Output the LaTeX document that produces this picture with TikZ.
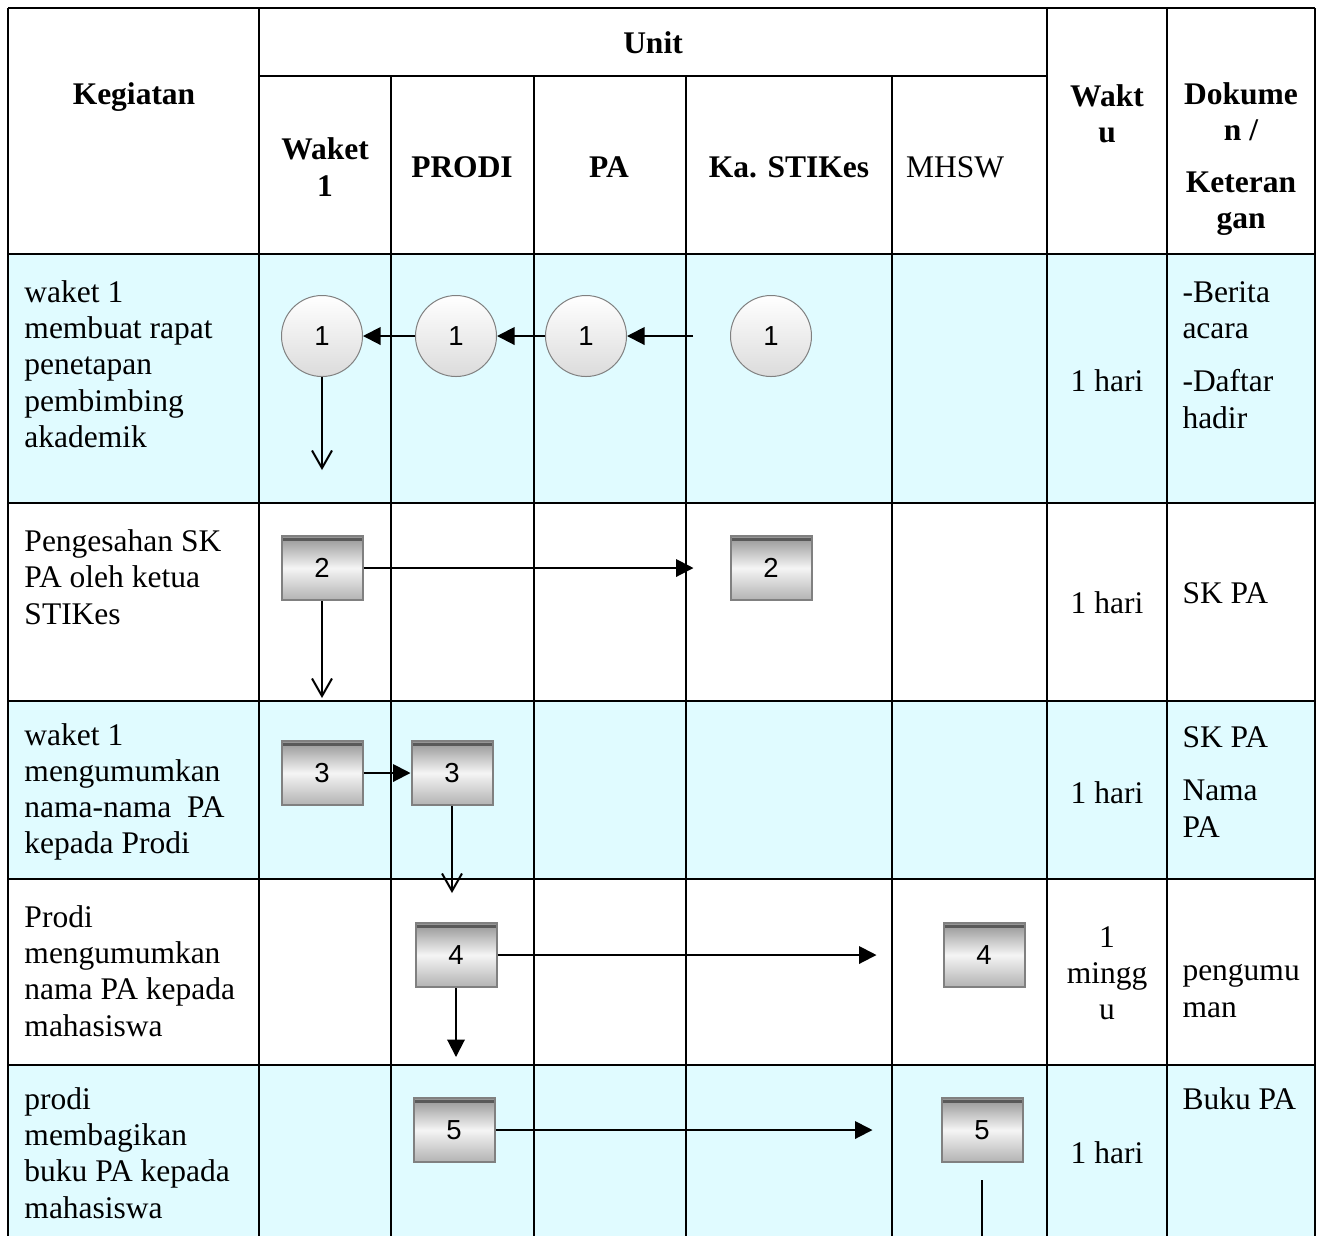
\documentclass[tikz,border=0pt]{standalone}
\usepackage{fontspec}
\setmainfont{Liberation Serif}
\newfontfamily\numfont{Liberation Sans}
\usepackage{tikz}
\usetikzlibrary{arrows.meta,shapes}
\definecolor{rowcyan}{RGB}{224,251,255}

\begin{document}
\begin{tikzpicture}[x=0.4pt,y=-0.4pt,
  txt/.style={inner sep=0pt,font=\fontsize{12.6}{14.5}\selectfont},
  head/.style={inner sep=0pt,align=center,font=\fontsize{12.6}{14.5}\selectfont\bfseries},
  ball/.style={circle,draw=gray,minimum size=32.4pt,inner sep=0pt,top color=white,bottom color=gray!28,font=\numfont\fontsize{11}{13}\selectfont},
  box/.style={rectangle,draw=gray,line width=0.8pt,minimum width=32.4pt,minimum height=25.6pt,inner sep=0pt,
    top color=gray!85,bottom color=gray!60,middle color=gray!8,font=\numfont\fontsize{11}{13}\selectfont,
    path picture={\fill[gray!70!black] ([yshift=-0.8pt]path picture bounding box.north west) rectangle ([yshift=-1.8pt]path picture bounding box.north east);}},
  fwd/.style={-{Triangle[length=7pt,width=7pt]},line width=0.8pt},
  dn/.style={-{Straight Barb[length=7pt,width=8pt]},line width=0.8pt}
]
\useasboundingbox (0,0) rectangle (1321,1236);

% Rows
\fill[rowcyan] (8,254) rectangle (1315,503);
\fill[rowcyan] (8,701) rectangle (1315,879);
\fill[rowcyan] (8,1065) rectangle (1315,1236);

% Grid
\begin{scope}[line width=0.6pt]
\draw (8,8) -- (1315,8);
\draw (259,76) -- (1047,76);
\foreach \y in {254,503,701,879,1065}
{
    \draw (8,\y) -- (1315,\y);
}
\foreach \x in {8,259,1047,1167,1315}
{
    \draw (\x,8) -- (\x,1236);
}
\foreach \x in {391,534,686,892}
{
    \draw (\x,76) -- (\x,1236);
}
\end{scope}

% Header
\node[head] (unit) at (653,43) {Unit};
\node[head] (keg) at (134,97) {Kegiatan};
\node[head] (hwaket) at (325,167) {Waket\\1};
\node[head] (hprodi) at (462,167) {PRODI};
\node[head] (hpa) at (609,167) {PA};
\node[head] (hka) at (789,167) {Ka. STIKes};
\node[txt] (hmhsw) at (955,167) {MHSW};
\node[head] (hwaktu) at (1107,114) {Wakt\\u};
\node[head] (hdok) at (1241,159) {Dokume\\n /\\[6pt]Keteran\\gan};

% Kegiatan
\node[txt,align=left,anchor=west] (keg1) at (24,364) {waket 1\\membuat rapat\\penetapan\\pembimbing\\akademik};
\node[txt,align=left,anchor=west] (keg2) at (24,577) {Pengesahan SK\\PA oleh ketua\\STIKes};
\node[txt,align=left,anchor=west] (keg3) at (24,792) {waket 1\\mengumumkan\\nama-nama~ PA\\kepada Prodi};
\node[txt,align=left,anchor=west] (keg4) at (24,971) {Prodi\\mengumumkan\\nama PA kepada\\mahasiswa};
\node[txt,align=left,anchor=west] (keg5) at (24,1153) {prodi\\membagikan\\buku PA kepada\\mahasiswa};

% Waktu
\node[txt] (wkt1) at (1107,381) {1 hari};
\node[txt] (wkt2) at (1107,603) {1 hari};
\node[txt] (wkt3) at (1107,793) {1 hari};
\node[txt,align=center] (wkt4) at (1107,973) {1\\mingg\\u};
\node[txt] (wkt5) at (1107,1153) {1 hari};

% Dokumen
\node[txt,align=left,anchor=west] (dok1) at (1182,355) {-Berita\\acara\\[6.8pt]-Daftar\\hadir};
\node[txt,align=left,anchor=west] (dok2) at (1182,593) {SK PA};
\node[txt,align=left,anchor=west] (dok3) at (1182,782) {SK PA\\[6.8pt]Nama\\PA};
\node[txt,align=left,anchor=west] (dok4) at (1182,991) {pengumu\\man};
\node[txt,align=left,anchor=west] (dok5) at (1182,1099) {Buku PA};

% Step 1
\node[ball] (w1) at (322,336) {1};
\node[ball] (p1) at (456,336) {1};
\node[ball] (a1) at (586,336) {1};
\node[ball] (k1) at (771,336) {1};
\coordinate (w1end) at (322,470);
\draw[fwd] (p1) -- (w1);
\draw[fwd] (a1) -- (p1);
\draw[fwd,shorten <=14.8pt] (k1) -- (a1);
\draw[dn] (w1) -- (w1end);

% Step 2
\node[box] (w2) at (322,568) {2};
\node[box] (k2) at (771,568) {2};
\coordinate (w2end) at (322,698);
\draw[fwd,shorten >=14.4pt] (w2) -- (k2);
\draw[dn] (w2) -- (w2end);

% Step 3
\node[box] (w3) at (322,773) {3};
\node[box] (p3) at (452,773) {3};
\coordinate (p3end) at (452,893);
\draw[fwd] (w3) -- (p3);
\draw[dn] (p3) -- (p3end);

% Step 4
\node[box] (p4) at (456,955) {4};
\node[box] (m4) at (984,955) {4};
\coordinate (p4end) at (456,1057);
\draw[fwd,shorten >=26.4pt] (p4) -- (m4);
\draw[fwd] (p4) -- (p4end);

% Step 5
\node[box] (p5) at (454,1130) {5};
\node[box] (m5) at (982,1130) {5};
\coordinate (m5end) at (982,1236);
\draw[fwd,shorten >=27.2pt] (p5) -- (m5);
\draw[line width=0.8pt,shorten <=6.8pt] (m5) -- (m5end);

\end{tikzpicture}
\end{document}
